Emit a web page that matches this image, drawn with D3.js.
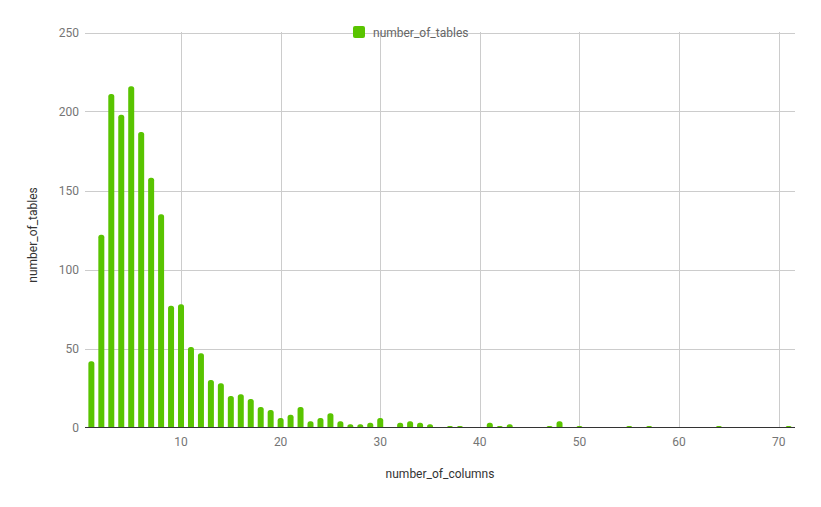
<!DOCTYPE html>
<html>
<head>
<meta charset="utf-8">
<script src="https://cdn.jsdelivr.net/npm/d3@7"></script>
<style>
  html, body { margin: 0; padding: 0; background: #fff; }
  svg { display: block; font-family: Roboto, "Noto Sans", sans-serif; }
</style>
</head>
<body>
<svg id="chart" width="821" height="507"></svg>
<script>
const columns = [1,2,3,4,5,6,7,8,9,10,11,12,13,14,15,16,17,18,19,20,21,22,23,24,25,26,27,28,29,30,32,33,34,35,37,38,41,42,43,47,48,50,55,57,64,71];
const tables  = [42,122,211,198,216,187,158,135,77,78,51,47,30,28,20,21,18,13,11,6,8,13,4,6,9,4,2,2,3,6,3,4,3,2,1,1,3,1,2,1,4,1,1,1,1,1];
const xTicks = [10,20,30,40,50,60,70];
const yTicks = [0,50,100,150,200,250];
const seriesName = "number_of_tables";
const xTitle = "number_of_columns";
const yTitle = "number_of_tables";

const data = columns.map((c, i) => ({ c, v: tables[i] }));

const svg = d3.select("#chart");
const x = d3.scaleLinear().domain([0.36, 71.64]).range([85, 795]);
const y = d3.scaleLinear().domain([0, 250]).range([427.5, 32.5]);
const barW = 6, r = 2.5;
const green = "#59c400";

// horizontal gridlines
svg.append("g").selectAll("line").data(yTicks.filter(d => d > 0)).join("line")
  .attr("x1", 85).attr("x2", 795)
  .attr("y1", d => Math.round(y(d)) + 0.5).attr("y2", d => Math.round(y(d)) + 0.5)
  .attr("stroke", "#cccccc").attr("stroke-width", 1);

// vertical gridlines
svg.append("g").selectAll("line").data(xTicks).join("line")
  .attr("x1", d => Math.round(x(d)) + 0.5).attr("x2", d => Math.round(x(d)) + 0.5)
  .attr("y1", 32).attr("y2", 427)
  .attr("stroke", "#cccccc").attr("stroke-width", 1);

// bars with rounded tops
function barPath(d) {
  const cx = x(d.c), x0 = cx - barW / 2, x1 = cx + barW / 2;
  const b = y(0), t = y(d.v);
  const h = b - t;
  const rr = Math.min(r, h, barW / 2);
  return `M${x0},${b}V${t + rr}Q${x0},${t} ${x0 + rr},${t}H${x1 - rr}Q${x1},${t} ${x1},${t + rr}V${b}Z`;
}
svg.append("g").selectAll("path").data(data.filter(d => d.v > 0)).join("path")
  .attr("d", barPath).attr("fill", green);

// baseline
svg.append("line").attr("x1", 85).attr("x2", 795)
  .attr("y1", 427.5).attr("y2", 427.5).attr("stroke", "#333").attr("stroke-width", 1);

// y tick labels
svg.append("g").selectAll("text").data(yTicks).join("text")
  .attr("x", 79).attr("y", d => y(d) + 4.5)
  .attr("text-anchor", "end").attr("font-size", 12).attr("fill", "#757575")
  .text(d => d);

// x tick labels
svg.append("g").selectAll("text").data(xTicks).join("text")
  .attr("x", d => x(d)).attr("y", 446)
  .attr("text-anchor", "middle").attr("font-size", 12).attr("fill", "#757575")
  .text(d => d);

// axis titles
svg.append("text").attr("x", 440).attr("y", 478)
  .attr("text-anchor", "middle").attr("font-size", 12).attr("fill", "#333")
  .text(xTitle);
svg.append("text").attr("transform", "translate(37,235) rotate(-90)")
  .attr("text-anchor", "middle").attr("font-size", 12).attr("fill", "#333")
  .text(yTitle);

// legend
svg.append("rect").attr("x", 353).attr("y", 26).attr("width", 12).attr("height", 12)
  .attr("rx", 2).attr("fill", green);
svg.append("text").attr("x", 373).attr("y", 36.5)
  .attr("font-size", 12).attr("fill", "#666")
  .text(seriesName);
</script>
</body>
</html>
